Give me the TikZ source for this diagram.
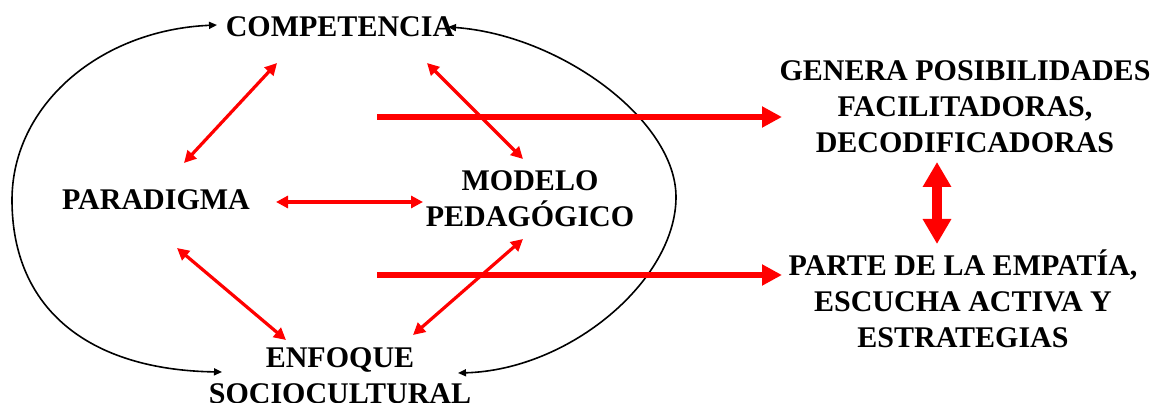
\documentclass[tikz,border=0pt]{standalone}
\usepackage{fontspec}
\setmainfont{Liberation Serif}
\usetikzlibrary{arrows.meta}
\begin{document}
\begin{tikzpicture}[x=1pt,y=-1pt,
  lbl/.style={font=\bfseries\fontsize{30}{36}\selectfont, align=center, anchor=base, inner sep=0pt},
  loop/.style={black, line width=1.6pt, {Triangle[length=8pt,width=7pt]}-{Triangle[length=8pt,width=7pt]}},
  rel/.style={red, line width=3.2pt, {Triangle[length=12pt,width=12pt]}-{Triangle[length=12pt,width=12pt]}},
  big/.style={red, line width=6.5pt, -{Triangle[length=20pt,width=20pt]}},
  dbl/.style={red, line width=10pt, {Triangle[length=25pt,width=27pt]}-{Triangle[length=25pt,width=27pt]}}]
\useasboundingbox (0,0) rectangle (1154,403);
% texts (base anchor = baseline of the last line)
\node[lbl] (comp) at (340,37) {COMPETENCIA};
\node[lbl] (para) at (156,210) {PARADIGMA};
\node[lbl] (mod) at (530,227) {MODELO\\PEDAGÓGICO};
\node[lbl] (enf) at (340,403) {ENFOQUE\\SOCIOCULTURAL};
\node[lbl] (gen) at (965,153) {GENERA POSIBILIDADES\\FACILITADORAS,\\DECODIFICADORAS};
\node[lbl] (par) at (963,348) {PARTE DE LA EMPATÍA,\\ESCUCHA ACTIVA Y\\ESTRATEGIAS};
% connector end points
\coordinate (cL) at (217,25);
\coordinate (eL) at (222,372);
\coordinate (cR) at (448,27);
\coordinate (eR) at (458,373);
\coordinate (cp1) at (277,63);  \coordinate (pc1) at (184,163);
\coordinate (cm1) at (427,63);  \coordinate (mc1) at (523,159);
\coordinate (pm1) at (276,202); \coordinate (mp1) at (423,202);
\coordinate (pe1) at (177,248); \coordinate (ep1) at (286,340);
\coordinate (me1) at (523,239); \coordinate (em1) at (413,335);
\coordinate (a1s) at (377,117); \coordinate (a1e) at (782,117);
\coordinate (a2s) at (377,275); \coordinate (a2e) at (782,275);
\coordinate (vt) at (937,162);  \coordinate (vb) at (937,244);
% black loop arcs
\draw[loop] (cL) .. controls (100,30) and (12,105) .. (12,200)
                 .. controls (12,310) and (90,370) .. (eL);
\draw[loop] (cR) .. controls (560,35) and (676,120) .. (676,197)
                 .. controls (676,280) and (570,370) .. (eR);
% red relations
\draw[rel] (cp1) -- (pc1);
\draw[rel] (cm1) -- (mc1);
\draw[rel] (pm1) -- (mp1);
\draw[rel] (pe1) -- (ep1);
\draw[rel] (me1) -- (em1);
\draw[big] (a1s) -- (a1e);
\draw[big] (a2s) -- (a2e);
\draw[dbl] (vt) -- (vb);
\end{tikzpicture}
\end{document}
